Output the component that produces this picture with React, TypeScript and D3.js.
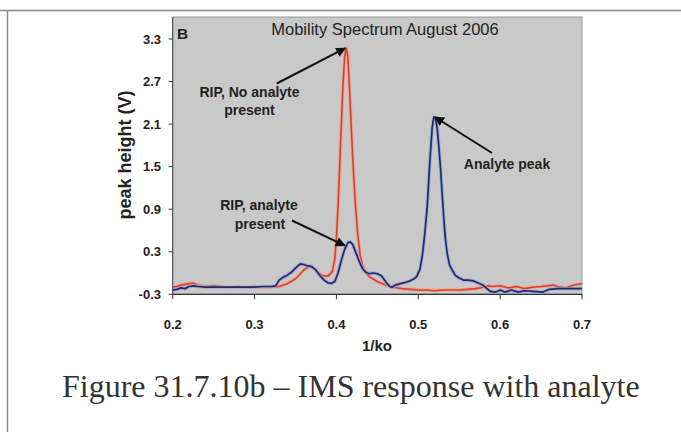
import React from "react";
import * as d3 from "d3";

const xTicks = [0.2, 0.3, 0.4, 0.5, 0.6, 0.7];
const xTickLabels = ["0.2", "0.3", "0.4", "0.5", "0.6", "0.7"];
const yTicks = [-0.3, 0.3, 0.9, 1.5, 2.1, 2.7, 3.3];
const yTickLabels = ["-0.3", "0.3", "0.9", "1.5", "2.1", "2.7", "3.3"];

// RIP, no analyte present (red)
const redX = [0.2, 0.205, 0.21, 0.215, 0.22, 0.225, 0.23, 0.24, 0.25, 0.26, 0.27, 0.28, 0.29, 0.3, 0.31, 0.32, 0.33, 0.34, 0.35, 0.36, 0.366, 0.372, 0.378, 0.384, 0.39, 0.395, 0.398, 0.4, 0.402, 0.404, 0.406, 0.408, 0.41, 0.412, 0.414, 0.416, 0.418, 0.42, 0.423, 0.426, 0.429, 0.432, 0.436, 0.44, 0.45, 0.46, 0.47, 0.48, 0.49, 0.5, 0.51, 0.52, 0.53, 0.54, 0.55, 0.56, 0.57, 0.58, 0.585, 0.59, 0.6, 0.61, 0.62, 0.63, 0.64, 0.65, 0.665, 0.67, 0.68, 0.69, 0.7];
const redY = [-0.2, -0.19, -0.17, -0.16, -0.15, -0.14, -0.17, -0.19, -0.18, -0.19, -0.2, -0.19, -0.2, -0.19, -0.2, -0.2, -0.19, -0.15, -0.08, 0.04, 0.09, 0.07, 0.0, -0.04, -0.04, 0.02, 0.2, 0.5, 0.95, 1.5, 2.1, 2.65, 3.05, 3.17, 3.05, 2.6, 2.1, 1.6, 1.0, 0.55, 0.25, 0.1, 0.0, -0.05, -0.12, -0.17, -0.2, -0.22, -0.23, -0.24, -0.24, -0.25, -0.24, -0.24, -0.24, -0.23, -0.22, -0.2, -0.18, -0.19, -0.18, -0.21, -0.19, -0.22, -0.2, -0.19, -0.17, -0.19, -0.21, -0.17, -0.15];

// RIP, analyte present (blue)
const blueX = [0.2, 0.205, 0.21, 0.215, 0.22, 0.225, 0.23, 0.24, 0.25, 0.26, 0.27, 0.28, 0.29, 0.3, 0.31, 0.32, 0.326, 0.33, 0.335, 0.34, 0.345, 0.35, 0.356, 0.36, 0.365, 0.37, 0.375, 0.38, 0.385, 0.39, 0.394, 0.398, 0.402, 0.406, 0.41, 0.414, 0.417, 0.42, 0.424, 0.428, 0.432, 0.436, 0.44, 0.445, 0.45, 0.455, 0.46, 0.465, 0.468, 0.472, 0.478, 0.485, 0.49, 0.495, 0.498, 0.502, 0.505, 0.508, 0.511, 0.514, 0.517, 0.519, 0.521, 0.523, 0.525, 0.527, 0.529, 0.531, 0.533, 0.535, 0.538, 0.541, 0.545, 0.55, 0.555, 0.56, 0.567, 0.573, 0.579, 0.584, 0.588, 0.594, 0.6, 0.606, 0.614, 0.622, 0.63, 0.64, 0.652, 0.66, 0.67, 0.68, 0.69, 0.7];
const blueY = [-0.24, -0.23, -0.21, -0.22, -0.19, -0.18, -0.19, -0.2, -0.2, -0.2, -0.2, -0.2, -0.2, -0.2, -0.19, -0.19, -0.18, -0.1, -0.06, -0.03, 0.01, 0.07, 0.13, 0.12, 0.1, 0.09, 0.04, -0.04, -0.1, -0.14, -0.145, -0.12, 0.0, 0.18, 0.33, 0.43, 0.44, 0.4, 0.28, 0.16, 0.06, 0.01, -0.01, 0.0, -0.01, -0.04, -0.12, -0.19, -0.2, -0.17, -0.15, -0.13, -0.11, -0.08, -0.05, 0.05, 0.25, 0.56, 0.95, 1.55, 2.05, 2.2, 2.18, 2.05, 1.8, 1.5, 1.15, 0.8, 0.5, 0.3, 0.12, 0.05, -0.03, -0.07, -0.1, -0.1, -0.11, -0.14, -0.17, -0.22, -0.26, -0.27, -0.24, -0.27, -0.24, -0.27, -0.25, -0.26, -0.27, -0.23, -0.22, -0.22, -0.22, -0.22];

const title = "Mobility Spectrum August 2006";
const panelLetter = "B";
const xTitle = "1/ko";
const yTitle = "peak height (V)";
const caption = "Figure 31.7.10b \u2013 IMS response with analyte";

export default function App() {
  const W = 681;
  const H = 432;
  const left = 172.7;
  const right = 582;
  const top = 17;
  const bottom = 294.3;

  const x = d3.scaleLinear().domain([0.2, 0.7]).range([left, right]);
  const y = d3.scaleLinear().domain([-0.3, 3.3]).range([bottom, 39]);

  const line = d3
    .line<[number, number]>()
    .x((d) => x(d[0]))
    .y((d) => y(d[1]))
    .curve(d3.curveLinear);

  const redPts: [number, number][] = redX.map((v, i) => [v, redY[i]]);
  const bluePts: [number, number][] = blueX.map((v, i) => [v, blueY[i]]);

  const redPath = line(redPts) || "";
  const bluePath = line(bluePts) || "";

  const ff = "Arial, 'Liberation Sans', Helvetica, sans-serif";

  const redPeakI = redY.indexOf(Math.max(...redY));
  const bluePeakI = blueY.indexOf(Math.max(...blueY));
  const ripBlueI = blueX.indexOf(0.414);

  const arrows = [
    { x1: 276.7, y1: 83.5, x2: x(redX[redPeakI]) - 1, y2: y(redY[redPeakI]) },
    { x1: 292, y1: 220.5, x2: x(blueX[ripBlueI]) - 3, y2: y(blueY[ripBlueI]) + 3 },
    { x1: 492, y1: 153, x2: x(blueX[bluePeakI]) + 1, y2: y(blueY[bluePeakI]) },
  ];

  return (
    <svg
      width={W}
      height={H}
      viewBox={`0 0 ${W} ${H}`}
      style={{ position: "absolute", left: 0, top: 0, background: "#fff" }}
    >
      <defs>
        <marker id="ah" viewBox="0 0 10 10" refX="9" refY="5" markerWidth="5" markerHeight="5" orient="auto">
          <path d="M0,0 L10,5 L0,10 z" fill="#111" />
        </marker>
        <clipPath id="plotclip">
          <rect x={left} y={top} width={right - left} height={bottom - top + 2} />
        </clipPath>
      </defs>

      {/* page frame */}
      <line x1={0} y1={10.5} x2={W} y2={10.5} stroke="#8a8a8a" strokeWidth={1.5} />
      <line x1={7.5} y1={10.5} x2={7.5} y2={H} stroke="#8a8a8a" strokeWidth={1.5} />

      {/* plot area */}
      <rect x={left} y={top} width={right - left} height={bottom - top} fill="#c9c9c9" stroke="#9a9a9a" strokeWidth={1} />

      {/* axes */}
      <line x1={left} y1={top} x2={left} y2={bottom} stroke="#444" strokeWidth={1} />
      <line x1={left} y1={bottom} x2={right} y2={bottom} stroke="#333" strokeWidth={1.2} />

      {yTicks.map((t, i) => (
        <g key={"yt" + i}>
          <line x1={left - 4} y1={y(t)} x2={left} y2={y(t)} stroke="#333" strokeWidth={1} />
          <text x={161} y={y(t)} dy="0.35em" textAnchor="end" fontFamily={ff} fontWeight="bold" fontSize={13} fill="#222">
            {yTickLabels[i]}
          </text>
        </g>
      ))}
      {xTicks.map((t, i) => (
        <g key={"xt" + i}>
          <line x1={x(t)} y1={bottom} x2={x(t)} y2={bottom + 5} stroke="#333" strokeWidth={1} />
          <text x={x(t)} y={328.5} textAnchor="middle" fontFamily={ff} fontWeight="bold" fontSize={13} fill="#222">
            {xTickLabels[i]}
          </text>
        </g>
      ))}

      {/* series */}
      <g clipPath="url(#plotclip)">
        <path d={redPath} fill="none" stroke="#f3a090" strokeWidth={3.6} strokeLinejoin="round" opacity={0.8} />
        <path d={redPath} fill="none" stroke="#d8402c" strokeWidth={1.6} strokeLinejoin="round" />
        <path d={bluePath} fill="none" stroke="#9aa6dc" strokeWidth={3.6} strokeLinejoin="round" opacity={0.8} />
        <path d={bluePath} fill="none" stroke="#232a63" strokeWidth={1.7} strokeLinejoin="round" />
      </g>

      {/* title & letter */}
      <text x={(268 + 502) / 2} y={35} textAnchor="middle" fontFamily={ff} fontSize={16.5} fill="#222">
        {title}
      </text>
      <text x={177} y={39} fontFamily={ff} fontWeight="bold" fontSize={15.5} fill="#222">
        {panelLetter}
      </text>

      {/* annotations */}
      <text x={249.5} y={96.5} textAnchor="middle" fontFamily={ff} fontWeight="bold" fontSize={14} fill="#222">
        RIP, No analyte
      </text>
      <text x={249.5} y={115} textAnchor="middle" fontFamily={ff} fontWeight="bold" fontSize={14} fill="#222">
        present
      </text>
      <text x={259} y={210} textAnchor="middle" fontFamily={ff} fontWeight="bold" fontSize={14} fill="#222">
        RIP, analyte
      </text>
      <text x={260} y={229} textAnchor="middle" fontFamily={ff} fontWeight="bold" fontSize={14} fill="#222">
        present
      </text>
      <text x={507} y={169} textAnchor="middle" fontFamily={ff} fontWeight="bold" fontSize={14} fill="#222">
        Analyte peak
      </text>

      {arrows.map((a, i) => (
        <line key={"ar" + i} x1={a.x1} y1={a.y1} x2={a.x2} y2={a.y2} stroke="#111" strokeWidth={2} markerEnd="url(#ah)" />
      ))}

      {/* axis titles */}
      <text x={377} y={350.5} textAnchor="middle" fontFamily={ff} fontWeight="bold" fontSize={15} fill="#222">
        {xTitle}
      </text>
      <text
        transform={`translate(131,155) rotate(-90)`}
        textAnchor="middle"
        fontFamily={ff}
        fontWeight="bold"
        fontSize={18}
        fill="#222"
      >
        {yTitle}
      </text>

      {/* caption */}
      <text x={62} y={397} fontFamily="'Liberation Serif', 'Times New Roman', serif" fontSize={32} fill="#333">
        {caption}
      </text>
    </svg>
  );
}
